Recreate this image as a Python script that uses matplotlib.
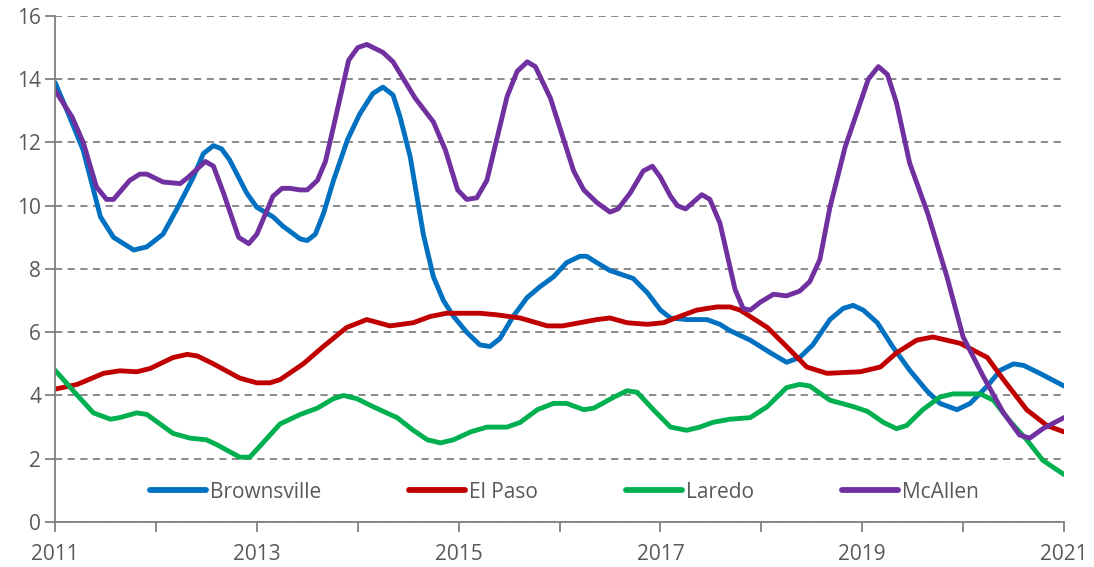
import matplotlib
matplotlib.use("Agg")
import matplotlib.pyplot as plt

# values (decimal year, rate)
brownsville_x = [2011.0, 2011.12, 2011.28, 2011.45, 2011.58, 2011.78, 2011.91, 2012.07, 2012.2, 2012.37,
                 2012.47, 2012.57, 2012.65, 2012.73, 2012.9, 2013.0, 2013.16, 2013.26, 2013.43, 2013.5,
                 2013.58, 2013.66, 2013.76, 2013.9, 2014.02, 2014.15, 2014.25, 2014.35, 2014.42, 2014.52,
                 2014.65, 2014.75, 2014.85, 2014.95, 2015.08, 2015.21, 2015.31, 2015.41, 2015.54, 2015.68,
                 2015.81, 2015.94, 2016.07, 2016.2, 2016.27, 2016.37, 2016.5, 2016.73, 2016.87, 2017.0,
                 2017.1, 2017.26, 2017.46, 2017.59, 2017.69, 2017.89, 2018.09, 2018.25, 2018.38, 2018.51,
                 2018.68, 2018.81, 2018.91, 2019.01, 2019.15, 2019.3, 2019.47, 2019.64, 2019.77, 2019.94,
                 2020.07, 2020.24, 2020.37, 2020.5, 2020.6, 2020.76, 2021.0]
brownsville_y = [13.9, 13.0, 11.75, 9.65, 9.0, 8.6, 8.7, 9.1, 9.85, 10.9,
                 11.65, 11.9, 11.8, 11.45, 10.4, 9.95, 9.65, 9.35, 8.95, 8.9,
                 9.1, 9.75, 10.8, 12.1, 12.9, 13.55, 13.75, 13.5, 12.8, 11.55,
                 9.1, 7.75, 7.0, 6.5, 6.0, 5.6, 5.55, 5.8, 6.5, 7.1,
                 7.45, 7.75, 8.2, 8.4, 8.4, 8.2, 7.95, 7.7, 7.25, 6.7,
                 6.45, 6.4, 6.4, 6.25, 6.05, 5.75, 5.35, 5.05, 5.2, 5.6,
                 6.4, 6.75, 6.85, 6.7, 6.3, 5.55, 4.8, 4.15, 3.75, 3.55,
                 3.75, 4.3, 4.8, 5.0, 4.95, 4.7, 4.3]

elpaso_x = [2011.0, 2011.22, 2011.48, 2011.64, 2011.81, 2011.94, 2012.17, 2012.31, 2012.41, 2012.57,
            2012.83, 2013.0, 2013.13, 2013.23, 2013.46, 2013.66, 2013.89, 2014.09, 2014.32, 2014.55,
            2014.72, 2014.88, 2015.21, 2015.38, 2015.61, 2015.88, 2016.03, 2016.2, 2016.37, 2016.5,
            2016.67, 2016.87, 2017.03, 2017.19, 2017.36, 2017.56, 2017.69, 2017.79, 2018.06, 2018.25,
            2018.45, 2018.65, 2018.98, 2019.18, 2019.34, 2019.54, 2019.7, 2019.97, 2020.24, 2020.4,
            2020.63, 2020.83, 2021.0]
elpaso_y = [4.2, 4.35, 4.7, 4.78, 4.75, 4.85, 5.2, 5.3, 5.25, 5.0,
            4.55, 4.4, 4.4, 4.5, 5.0, 5.55, 6.15, 6.4, 6.2, 6.3,
            6.5, 6.6, 6.6, 6.55, 6.45, 6.2, 6.2, 6.3, 6.4, 6.45,
            6.3, 6.25, 6.3, 6.5, 6.7, 6.8, 6.8, 6.7, 6.15, 5.55,
            4.9, 4.7, 4.75, 4.9, 5.35, 5.75, 5.85, 5.65, 5.2, 4.5,
            3.55, 3.05, 2.85]

laredo_x = [2011.0, 2011.18, 2011.38, 2011.55, 2011.64, 2011.81, 2011.91, 2012.17, 2012.34, 2012.5,
            2012.6, 2012.83, 2012.93, 2013.06, 2013.23, 2013.43, 2013.6, 2013.76, 2013.86, 2013.99,
            2014.15, 2014.32, 2014.39, 2014.55, 2014.69, 2014.82, 2014.95, 2015.12, 2015.28, 2015.48,
            2015.61, 2015.78, 2015.94, 2016.07, 2016.24, 2016.34, 2016.54, 2016.67, 2016.77, 2016.93,
            2017.1, 2017.26, 2017.39, 2017.52, 2017.69, 2017.89, 2018.06, 2018.25, 2018.38, 2018.48,
            2018.68, 2018.91, 2019.05, 2019.21, 2019.34, 2019.44, 2019.6, 2019.77, 2019.9, 2020.17,
            2020.3, 2020.46, 2020.63, 2020.79, 2021.0]
laredo_y = [4.8, 4.15, 3.45, 3.25, 3.3, 3.45, 3.4, 2.8, 2.65, 2.6,
            2.45, 2.05, 2.05, 2.5, 3.1, 3.4, 3.6, 3.9, 4.0, 3.9,
            3.65, 3.4, 3.3, 2.9, 2.6, 2.5, 2.6, 2.85, 3.0, 3.0,
            3.15, 3.55, 3.75, 3.75, 3.55, 3.6, 3.95, 4.15, 4.1, 3.55,
            3.0, 2.9, 3.0, 3.15, 3.25, 3.3, 3.65, 4.25, 4.35, 4.3,
            3.85, 3.65, 3.5, 3.15, 2.95, 3.05, 3.55, 3.95, 4.05, 4.05,
            3.85, 3.2, 2.6, 1.95, 1.5]

mcallen_x = [2011.0, 2011.17, 2011.28, 2011.41, 2011.51, 2011.58, 2011.74, 2011.84, 2011.91, 2012.07,
             2012.24, 2012.32, 2012.49, 2012.57, 2012.67, 2012.82, 2012.92, 2013.0, 2013.16, 2013.25,
             2013.33, 2013.43, 2013.5, 2013.6, 2013.68, 2013.76, 2013.91, 2014.0, 2014.09, 2014.25,
             2014.35, 2014.57, 2014.75, 2014.87, 2014.99, 2015.08, 2015.18, 2015.28, 2015.48, 2015.58,
             2015.68, 2015.76, 2015.91, 2016.14, 2016.24, 2016.37, 2016.5, 2016.58, 2016.7, 2016.83,
             2016.92, 2017.0, 2017.1, 2017.17, 2017.25, 2017.41, 2017.49, 2017.59, 2017.74, 2017.82,
             2017.89, 2017.99, 2018.12, 2018.25, 2018.38, 2018.48, 2018.58, 2018.68, 2018.83, 2018.98,
             2019.06, 2019.16, 2019.25, 2019.34, 2019.47, 2019.65, 2019.84, 2020.0, 2020.2, 2020.4,
             2020.56, 2020.66, 2020.79, 2021.0]
mcallen_y = [13.65, 12.8, 12.0, 10.6, 10.2, 10.2, 10.8, 11.0, 11.0, 10.75,
             10.7, 10.9, 11.4, 11.25, 10.4, 9.0, 8.8, 9.1, 10.3, 10.55,
             10.55, 10.5, 10.5, 10.8, 11.4, 12.5, 14.6, 15.0, 15.1, 14.85,
             14.55, 13.4, 12.65, 11.75, 10.5, 10.2, 10.25, 10.8, 13.45, 14.25,
             14.55, 14.4, 13.4, 11.1, 10.5, 10.1, 9.8, 9.9, 10.4, 11.1,
             11.25, 10.9, 10.3, 10.0, 9.9, 10.35, 10.2, 9.45, 7.35, 6.75,
             6.7, 6.95, 7.2, 7.15, 7.3, 7.6, 8.3, 9.95, 11.85, 13.25,
             14.0, 14.4, 14.15, 13.25, 11.35, 9.75, 7.75, 5.85, 4.6, 3.45,
             2.75, 2.65, 2.95, 3.3]

series = [
    ("Brownsville", brownsville_x, brownsville_y, "#0070C0"),
    ("El Paso", elpaso_x, elpaso_y, "#C00000"),
    ("Laredo", laredo_x, laredo_y, "#00B050"),
    ("McAllen", mcallen_x, mcallen_y, "#7030A0"),
]

year_ticks = list(range(2011, 2022))
year_labels = [str(y) if (y - 2011) % 2 == 0 else "" for y in year_ticks]
y_ticks = list(range(0, 17, 2))

plt.rcParams["font.family"] = ["Open Sans", "DejaVu Sans"]
grey = "#808080"
text_grey = "#595959"

fig = plt.figure(figsize=(10.94, 5.67), dpi=100)
ax = fig.add_axes([0.0503, 0.0794, 0.9223, 0.8924])

for name, xs, ys, col in series:
    ax.plot(xs, ys, color=col, lw=3.5, label=name, solid_joinstyle="round", solid_capstyle="round")

ax.set_xlim(2011, 2021)
ax.set_ylim(0, 16)
ax.set_xticks(year_ticks)
ax.set_xticklabels(year_labels)
ax.set_yticks(y_ticks)

ax.yaxis.grid(True, linestyle=(0, (4, 3)), color=grey, lw=1.3)
ax.set_axisbelow(True)
for s in ["top", "right"]:
    ax.spines[s].set_visible(False)
for s in ["left", "bottom"]:
    ax.spines[s].set_color(grey)
    ax.spines[s].set_linewidth(1.3)
ax.tick_params(axis="both", colors=grey, width=1.3, length=7, labelsize=15,
               labelcolor=text_grey, direction="out")
ax.tick_params(axis="x", pad=9)
ax.tick_params(axis="y", pad=3)

leg = ax.legend(loc="center left", bbox_to_anchor=(0.094, 0.059), ncol=4, frameon=False,
                fontsize=15, handlelength=2.7, handletextpad=0.2, columnspacing=4.2,
                borderpad=0, borderaxespad=0, labelcolor=text_grey)
for h in leg.get_lines():
    h.set_linewidth(4.2)

fig.savefig("out.png", dpi=100)
